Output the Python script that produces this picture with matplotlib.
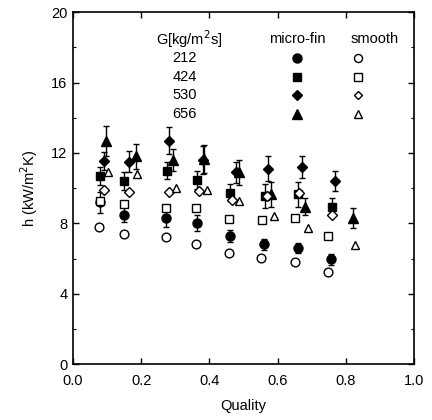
import matplotlib
matplotlib.use("Agg")
import matplotlib.pyplot as plt
from matplotlib.ticker import MultipleLocator

plt.rcParams['font.family'] = ['Liberation Sans', 'DejaVu Sans']

# Data: quality (x) and heat transfer coefficient h (kW/m2K)
G_labels = ["212", "424", "530", "656"]

mf212_x = [0.079, 0.150, 0.273, 0.363, 0.460, 0.561, 0.659, 0.757]
mf212_h = [9.2, 8.5, 8.3, 8.0, 7.3, 6.8, 6.6, 5.95]
mf212_e = [0.6, 0.45, 0.5, 0.45, 0.35, 0.3, 0.3, 0.3]

sm212_x = [0.077, 0.149, 0.272, 0.360, 0.457, 0.551, 0.650, 0.747]
sm212_h = [7.8, 7.4, 7.2, 6.85, 6.3, 6.05, 5.8, 5.25]

mf424_x = [0.079, 0.150, 0.277, 0.363, 0.462, 0.563, 0.661, 0.759]
mf424_h = [10.7, 10.4, 11.0, 10.45, 9.75, 9.55, 9.65, 8.95]
mf424_e = [0.5, 0.5, 0.5, 0.5, 0.5, 0.7, 0.7, 0.5]

sm424_x = [0.079, 0.150, 0.272, 0.361, 0.457, 0.554, 0.651, 0.749]
sm424_h = [9.25, 9.1, 8.85, 8.85, 8.25, 8.2, 8.3, 7.3]

mf530_x = [0.091, 0.165, 0.283, 0.380, 0.478, 0.573, 0.672, 0.770]
mf530_h = [11.55, 11.5, 12.7, 11.6, 10.9, 11.1, 11.2, 10.4]
mf530_e = [0.5, 0.6, 0.75, 0.8, 0.6, 0.7, 0.6, 0.55]

sm530_x = [0.091, 0.164, 0.283, 0.370, 0.467, 0.568, 0.663, 0.759]
sm530_h = [9.9, 9.8, 9.8, 9.85, 9.3, 9.55, 9.7, 8.45]

mf656_x = [0.096, 0.185, 0.294, 0.384, 0.486, 0.581, 0.680, 0.820]
mf656_h = [12.7, 11.8, 11.6, 11.65, 10.9, 9.65, 8.95, 8.3]
mf656_e = [0.85, 0.7, 0.6, 0.8, 0.7, 0.7, 0.5, 0.55]

sm656_x = [0.103, 0.187, 0.302, 0.392, 0.488, 0.589, 0.688, 0.828]
sm656_h = [10.9, 10.8, 10.0, 9.9, 9.25, 8.4, 7.75, 6.75]

fig = plt.figure(figsize=(4.32, 4.20), dpi=100)
ax = fig.add_axes([0.169, 0.133, 0.789, 0.838])

mf_series = [(mf212_x, mf212_h, mf212_e, 'o', 6.5),
             (mf424_x, mf424_h, mf424_e, 's', 6.3),
             (mf530_x, mf530_h, mf530_e, 'D', 5.0),
             (mf656_x, mf656_h, mf656_e, '^', 6.5)]
sm_series = [(sm212_x, sm212_h, 'o', 6.3),
             (sm424_x, sm424_h, 's', 6.3),
             (sm530_x, sm530_h, 'D', 5.0),
             (sm656_x, sm656_h, '^', 6.0)]

for x, h, e, m, s in mf_series:
    ax.errorbar(x, h, yerr=e, fmt=m, ms=s, color='black', mfc='black', mec='black',
                elinewidth=1.0, capsize=2, capthick=1.0, zorder=3)
for x, h, m, s in sm_series:
    ax.plot(x, h, m, ms=s, mfc='white', mec='black', mew=1.0, color='black', zorder=4)

# Text legend
ax.text(0.34, 18.45, "G[kg/m$^2$s]", ha='center', va='center', fontsize=10.5)
ax.text(0.657, 18.45, "micro-fin", ha='center', va='center', fontsize=10.5)
ax.text(0.885, 18.45, "smooth", ha='center', va='center', fontsize=10.5)
leg_y = [17.4, 16.3, 15.3, 14.2]
for i, lab in enumerate(G_labels):
    ax.text(0.327, leg_y[i], lab, ha='center', va='center', fontsize=10.5)
    _, _, _, m, s = mf_series[i]
    ax.plot([0.657], [leg_y[i]], m, ms=s, color='black', zorder=4)
    _, _, m2, s2 = sm_series[i]
    ax.plot([0.835], [leg_y[i]], m2, ms=s2 - 0.5, mfc='white', mec='black', mew=1.0, zorder=4)

ax.set_xlim(0, 1.0)
ax.set_ylim(0, 20)
ax.set_xticks([0.0, 0.2, 0.4, 0.6, 0.8, 1.0])
ax.set_xticklabels(["0.0", "0.2", "0.4", "0.6", "0.8", "1.0"])
ax.set_yticks([0, 4, 8, 12, 16, 20])
ax.yaxis.set_minor_locator(MultipleLocator(2))
ax.tick_params(which='major', direction='in', length=4, width=1, top=True, right=True, labelsize=10.5)
ax.tick_params(axis='x', which='major', pad=7)
ax.tick_params(axis='y', which='major', pad=4)
ax.tick_params(which='minor', direction='in', length=2, width=0.8, left=True, right=True)
for sp in ax.spines.values():
    sp.set_linewidth(1.2)

ax.set_xlabel("Quality", fontsize=10.5, labelpad=8)
ax.set_ylabel("h (kW/m$^2$K)", fontsize=10.5, labelpad=8)

fig.savefig("out.png", dpi=100)
